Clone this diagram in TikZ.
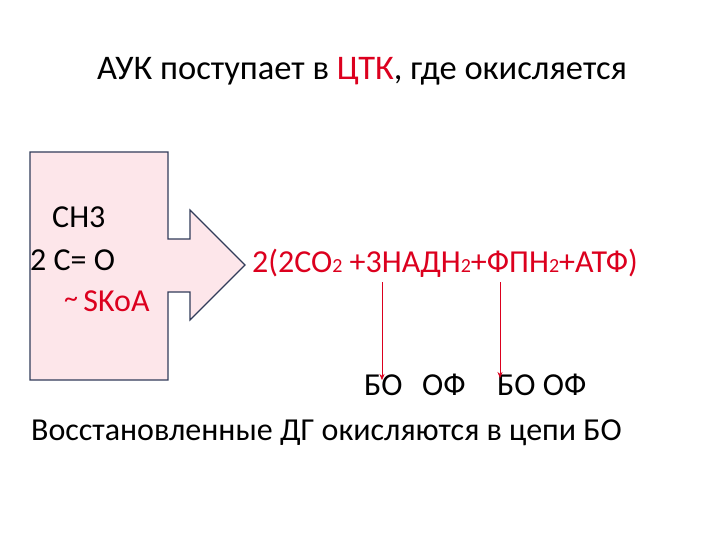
\documentclass[tikz,border=0pt]{standalone}
\usepackage{fontspec}
\setmainfont{Carlito}
\usetikzlibrary{arrows.meta}
\definecolor{rd}{RGB}{220,0,30}
\definecolor{pk}{RGB}{253,230,234}
\definecolor{bl}{RGB}{50,60,90}
\newcommand{\sbs}[1]{{\fontsize{20}{20}\selectfont #1}}
\begin{document}
\begin{tikzpicture}[x=1pt,y=-1pt,
  txt/.style={inner sep=0pt,anchor=base west,font=\fontsize{32}{36}\selectfont},
  arr/.style={draw=rd,-{Stealth[length=6pt,width=5pt]},thin}]
\useasboundingbox (0,0) rectangle (720,540);
\fill[white] (0,0) rectangle (720,540);
\draw[bl,fill=pk,line width=1.2pt] (30,152) -- (168,152) -- (168,239) -- (190,239) -- (190,210) -- (245,265) -- (190,320) -- (190,292) -- (168,292) -- (168,380) -- (30,380) -- cycle;
\node[txt,anchor=base,font=\fontsize{34.5}{36}\selectfont] (title) at (362,80) {АУК поступает в \textcolor{rd}{ЦТК}, где окисляется};
\node[txt] (ch3) at (52,228) {CH3};
\node[txt] (co) at (30,270) {2 C= O};
\node[txt,text=rd] (skoa) at (64,311) {\raisebox{4pt}{\fontsize{28}{28}\selectfont\textasciitilde}\,SKoA};
\node[txt,text=rd] (f) at (252,272) {2(2CO\sbs{2} +3НАДН\sbs{2}+ФПН\sbs{2}+АТФ)};
\node[txt] (bo1) at (364,395) {БО};
\node[txt] (of1) at (422,395) {ОФ};
\node[txt] (bo2) at (497,395) {БО ОФ};
\node[txt] (last) at (31,440) {Восстановленные ДГ окисляются в цепи БО};
\coordinate (a1) at (382,282); \coordinate (b1) at (382,380);
\coordinate (a2) at (500,282); \coordinate (b2) at (500,378);
\draw[arr] (a1) -- (b1);
\draw[arr] (a2) -- (b2);
\end{tikzpicture}
\end{document}
